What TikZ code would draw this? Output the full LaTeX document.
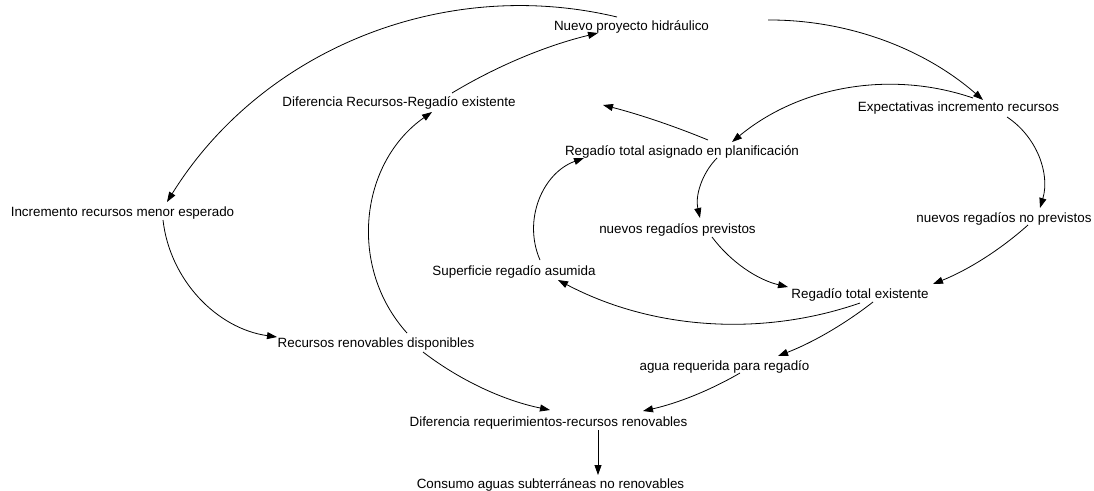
\documentclass[tikz,border=0pt]{standalone}
\usepackage{fontspec}
\setmainfont{Liberation Sans}
\usetikzlibrary{arrows.meta}
\begin{document}
\begin{tikzpicture}[x=1pt,y=-1pt,
  lbl/.style={inner sep=0pt, anchor=base, font=\fontsize{13.4}{16}\selectfont},
  link/.style={line width=0.8pt, -{Triangle[length=10pt,width=7pt]}}]
\useasboundingbox (0,0) rectangle (1094,490);
% nodes
\node[lbl] (nuevo)  at (631.5,30)  {Nuevo proyecto hidráulico};
\node[lbl] (expect) at (958.5,111) {Expectativas incremento recursos};
\node[lbl] (asig)   at (682,155)   {Regadío total asignado en planificación};
\node[lbl] (diffR)  at (399,106)   {Diferencia Recursos-Regadío existente};
\node[lbl] (incr)   at (122.5,216) {Incremento recursos menor esperado};
\node[lbl] (nrp)    at (677.5,233) {nuevos regadíos previstos};
\node[lbl] (nrnp)   at (1004,222)  {nuevos regadíos no previstos};
\node[lbl] (sup)    at (514,275)   {Superficie regadío asumida};
\node[lbl] (rte)    at (860,298)   {Regadío total existente};
\node[lbl] (recR)   at (376,347)   {Recursos renovables disponibles};
\node[lbl] (agua)   at (724.5,370) {agua requerida para regadío};
\node[lbl] (dreq)   at (548.5,426) {Diferencia requerimientos-recursos renovables};
\node[lbl] (cons)   at (550.5,488) {Consumo aguas subterráneas no renovables};
\coordinate (asigtip) at (603,105);
% connectors
\draw[link] ([shift={(136.5,-10)}]nuevo.base) to[bend left=20.7, looseness=0.88] ([shift={(24.5,-11)}]expect.base);
\draw[link] ([shift={(-14.5,-13)}]nuevo.base) to[bend right=35.8, looseness=0.94] ([shift={(44.5,-14)}]incr.base);
\draw[link] ([shift={(53,-13)}]diffR.base) to[bend left=8.7, looseness=0.86] ([shift={(-33.5,3)}]nuevo.base);
\draw[link] ([shift={(31,-14)}]recR.base) to[bend left=48.5, looseness=1.02] ([shift={(33,6)}]diffR.base);
\draw[link] ([shift={(14.5,-13)}]expect.base) to[bend right=29.3, looseness=0.91] ([shift={(50,-13)}]asig.base);
\draw[link] ([shift={(48.5,6)}]expect.base) to[bend left=36.6, looseness=0.945] ([shift={(36,-14)}]nrnp.base);
\draw[link] ([shift={(24,3)}]nrnp.base) to[bend left=10, looseness=0.86] ([shift={(73,-14)}]rte.base);
\draw[link] ([shift={(35,3)}]asig.base) to[bend right=28.8, looseness=0.91] ([shift={(22.5,-15)}]nrp.base);
\draw[link] ([shift={(26,-15)}]asig.base) to[bend right=4, looseness=0.85] (asigtip);
\draw[link] ([shift={(34.5,4)}]nrp.base) to[bend right=20, looseness=0.88] ([shift={(-72,-11)}]rte.base);
\draw[link] ([shift={(0,5)}]rte.base) to[bend left=23.5, looseness=0.89] ([shift={(44,5)}]sup.base);
\draw[link] ([shift={(26,-15)}]sup.base) to[bend left=46.8, looseness=1.01] ([shift={(-98,3)}]asig.base);
\draw[link] ([shift={(13,4)}]rte.base) to[bend left=8.4, looseness=0.86] ([shift={(53.5,-14)}]agua.base);
\draw[link] ([shift={(15.5,3)}]agua.base) to[bend left=8.8, looseness=0.86] ([shift={(94.5,-15)}]dreq.base);
\draw[link] ([shift={(47,5)}]recR.base) to[bend right=13, looseness=0.86] ([shift={(1.5,-16)}]dreq.base);
\draw[link] ([shift={(49.5,4)}]dreq.base) -- ([shift={(47.5,-13)}]cons.base);
\draw[link] ([shift={(40.5,4)}]incr.base) to[bend right=37.8, looseness=0.95] ([shift={(-99,-10)}]recR.base);
\end{tikzpicture}
\end{document}
